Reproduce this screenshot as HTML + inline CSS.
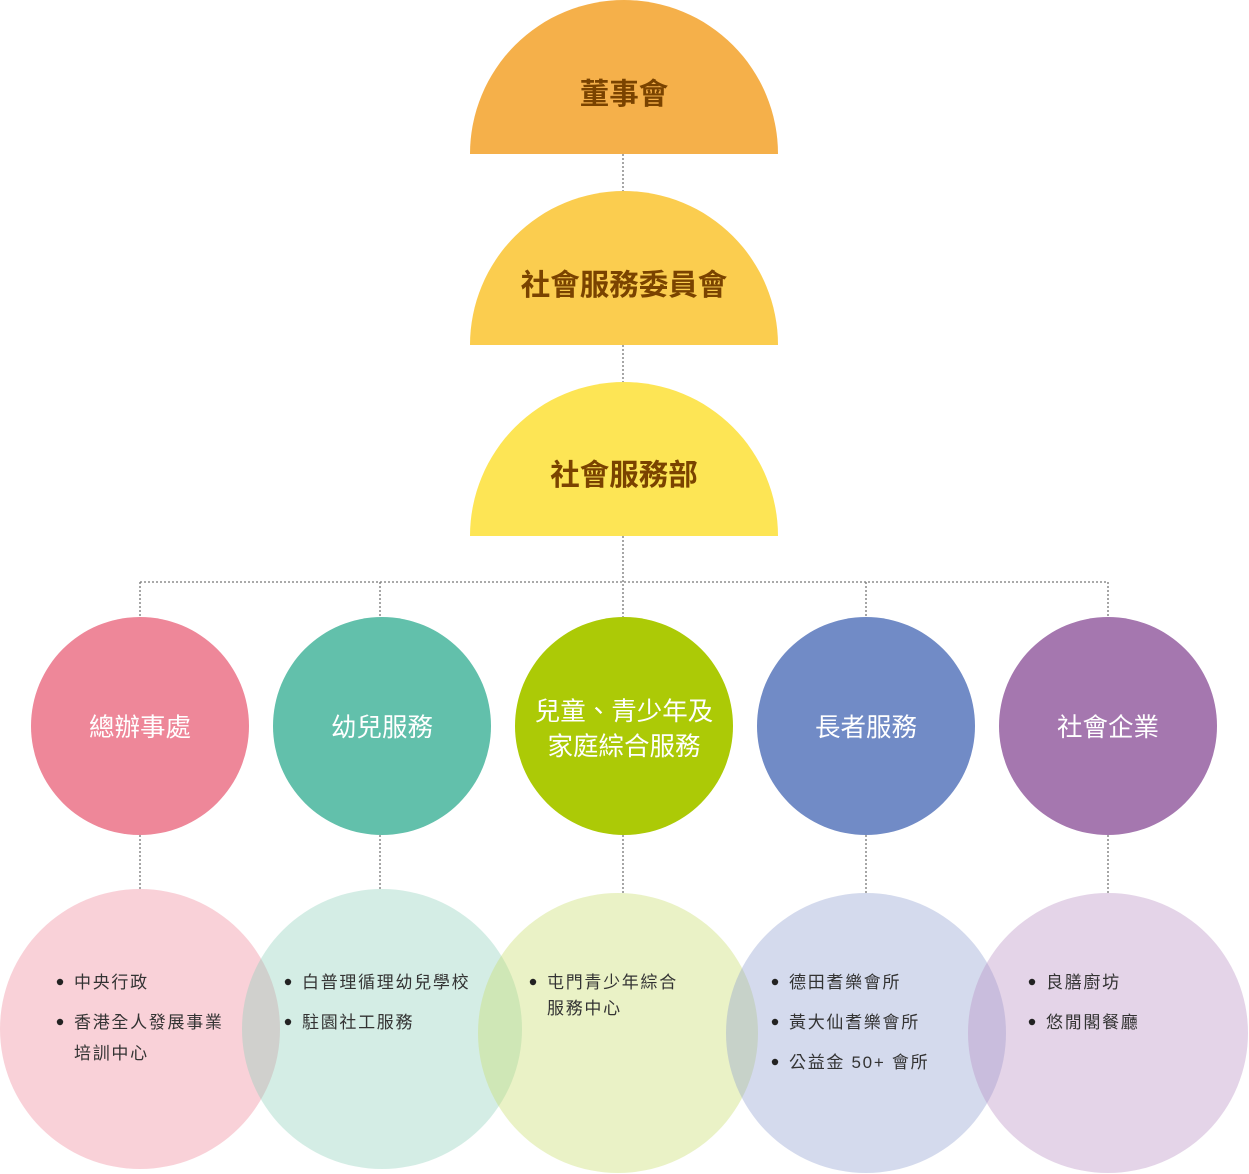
<!DOCTYPE html>
<html><head><meta charset="utf-8"><style>
html,body{margin:0;padding:0;background:#fff;}
svg{display:block}
text{font-family:"Liberation Sans","Noto Sans CJK TC",sans-serif;}
.t{font-size:29.5px;font-weight:bold;fill:#7a4300;text-anchor:middle}
.c{font-size:25.5px;fill:#fff;text-anchor:middle}
.l{font-size:17px;fill:#333;letter-spacing:1.7px}
</style></head><body>
<svg width="1249" height="1174" viewBox="0 0 1249 1174">
<g stroke="#777" stroke-width="1.3" stroke-dasharray="2,2" fill="none">
<line x1="623" y1="154" x2="623" y2="191"/>
<line x1="623" y1="345" x2="623" y2="382"/>
<line x1="623" y1="536" x2="623" y2="617"/>
<line x1="140" y1="582" x2="1108" y2="582"/>
<line x1="140" y1="582" x2="140" y2="617"/>
<line x1="380" y1="582" x2="380" y2="617"/>
<line x1="866" y1="582" x2="866" y2="617"/>
<line x1="1108" y1="582" x2="1108" y2="617"/>
<line x1="140" y1="835" x2="140" y2="889"/>
<line x1="380" y1="835" x2="380" y2="889"/>
<line x1="623" y1="835" x2="623" y2="893"/>
<line x1="866" y1="835" x2="866" y2="893"/>
<line x1="1108" y1="835" x2="1108" y2="893"/>
</g>
<path d="M470 154 A154 154 0 0 1 778 154 Z" fill="#f5b04a"/>
<path d="M470 345 A154 154 0 0 1 778 345 Z" fill="#fbcd4f"/>
<path d="M470 536 A154 154 0 0 1 778 536 Z" fill="#fde555"/>
<text class="t" x="624" y="104">董事會</text>
<text class="t" x="624" y="295">社會服務委員會</text>
<text class="t" x="624" y="485">社會服務部</text>
<circle cx="140" cy="726" r="109" fill="#ee8799"/>
<circle cx="382" cy="726" r="109" fill="#62c0ab"/>
<circle cx="624" cy="726" r="109" fill="#acca06"/>
<circle cx="866" cy="726" r="109" fill="#718bc6"/>
<circle cx="1108" cy="726" r="109" fill="#a577af"/>
<text class="c" x="140" y="736">總辦事處</text>
<text class="c" x="382" y="736">幼兒服務</text>
<text class="c" x="624" y="720">兒童、青少年及</text>
<text class="c" x="624" y="755">家庭綜合服務</text>
<text class="c" x="866" y="736">長者服務</text>
<text class="c" x="1108" y="736">社會企業</text>
<g fill-opacity="0.38">
<circle cx="140" cy="1029" r="140" fill="#ee8799"/>
<circle cx="382" cy="1029" r="140" fill="#8fd0bb"/>
<circle cx="618" cy="1033" r="140" fill="#c8dc6a"/>
<circle cx="866" cy="1033" r="140" fill="#8f9fd0"/>
<circle cx="1108" cy="1033" r="140" fill="#b98fc3"/>
</g>
<g fill="#222">
<circle cx="60" cy="982" r="3.2"/><circle cx="60" cy="1022" r="3.2"/>
<circle cx="288" cy="982" r="3.2"/><circle cx="288" cy="1022" r="3.2"/>
<circle cx="533" cy="982" r="3.2"/>
<circle cx="775" cy="982" r="3.2"/><circle cx="775" cy="1022" r="3.2"/><circle cx="775" cy="1062" r="3.2"/>
<circle cx="1032" cy="982" r="3.2"/><circle cx="1032" cy="1022" r="3.2"/>
</g>
<text class="l" x="74" y="988">中央行政</text>
<text class="l" x="74" y="1028">香港全人發展事業</text>
<text class="l" x="74" y="1059">培訓中心</text>
<text class="l" x="302" y="988">白普理循理幼兒學校</text>
<text class="l" x="302" y="1028">駐園社工服務</text>
<text class="l" x="547" y="988">屯門青少年綜合</text>
<text class="l" x="547" y="1014">服務中心</text>
<text class="l" x="789" y="988">德田耆樂會所</text>
<text class="l" x="789" y="1028">黃大仙耆樂會所</text>
<text class="l" x="789" y="1068">公益金 50+ 會所</text>
<text class="l" x="1046" y="988">良膳廚坊</text>
<text class="l" x="1046" y="1028">悠閒閣餐廳</text>
</svg>
</body></html>
